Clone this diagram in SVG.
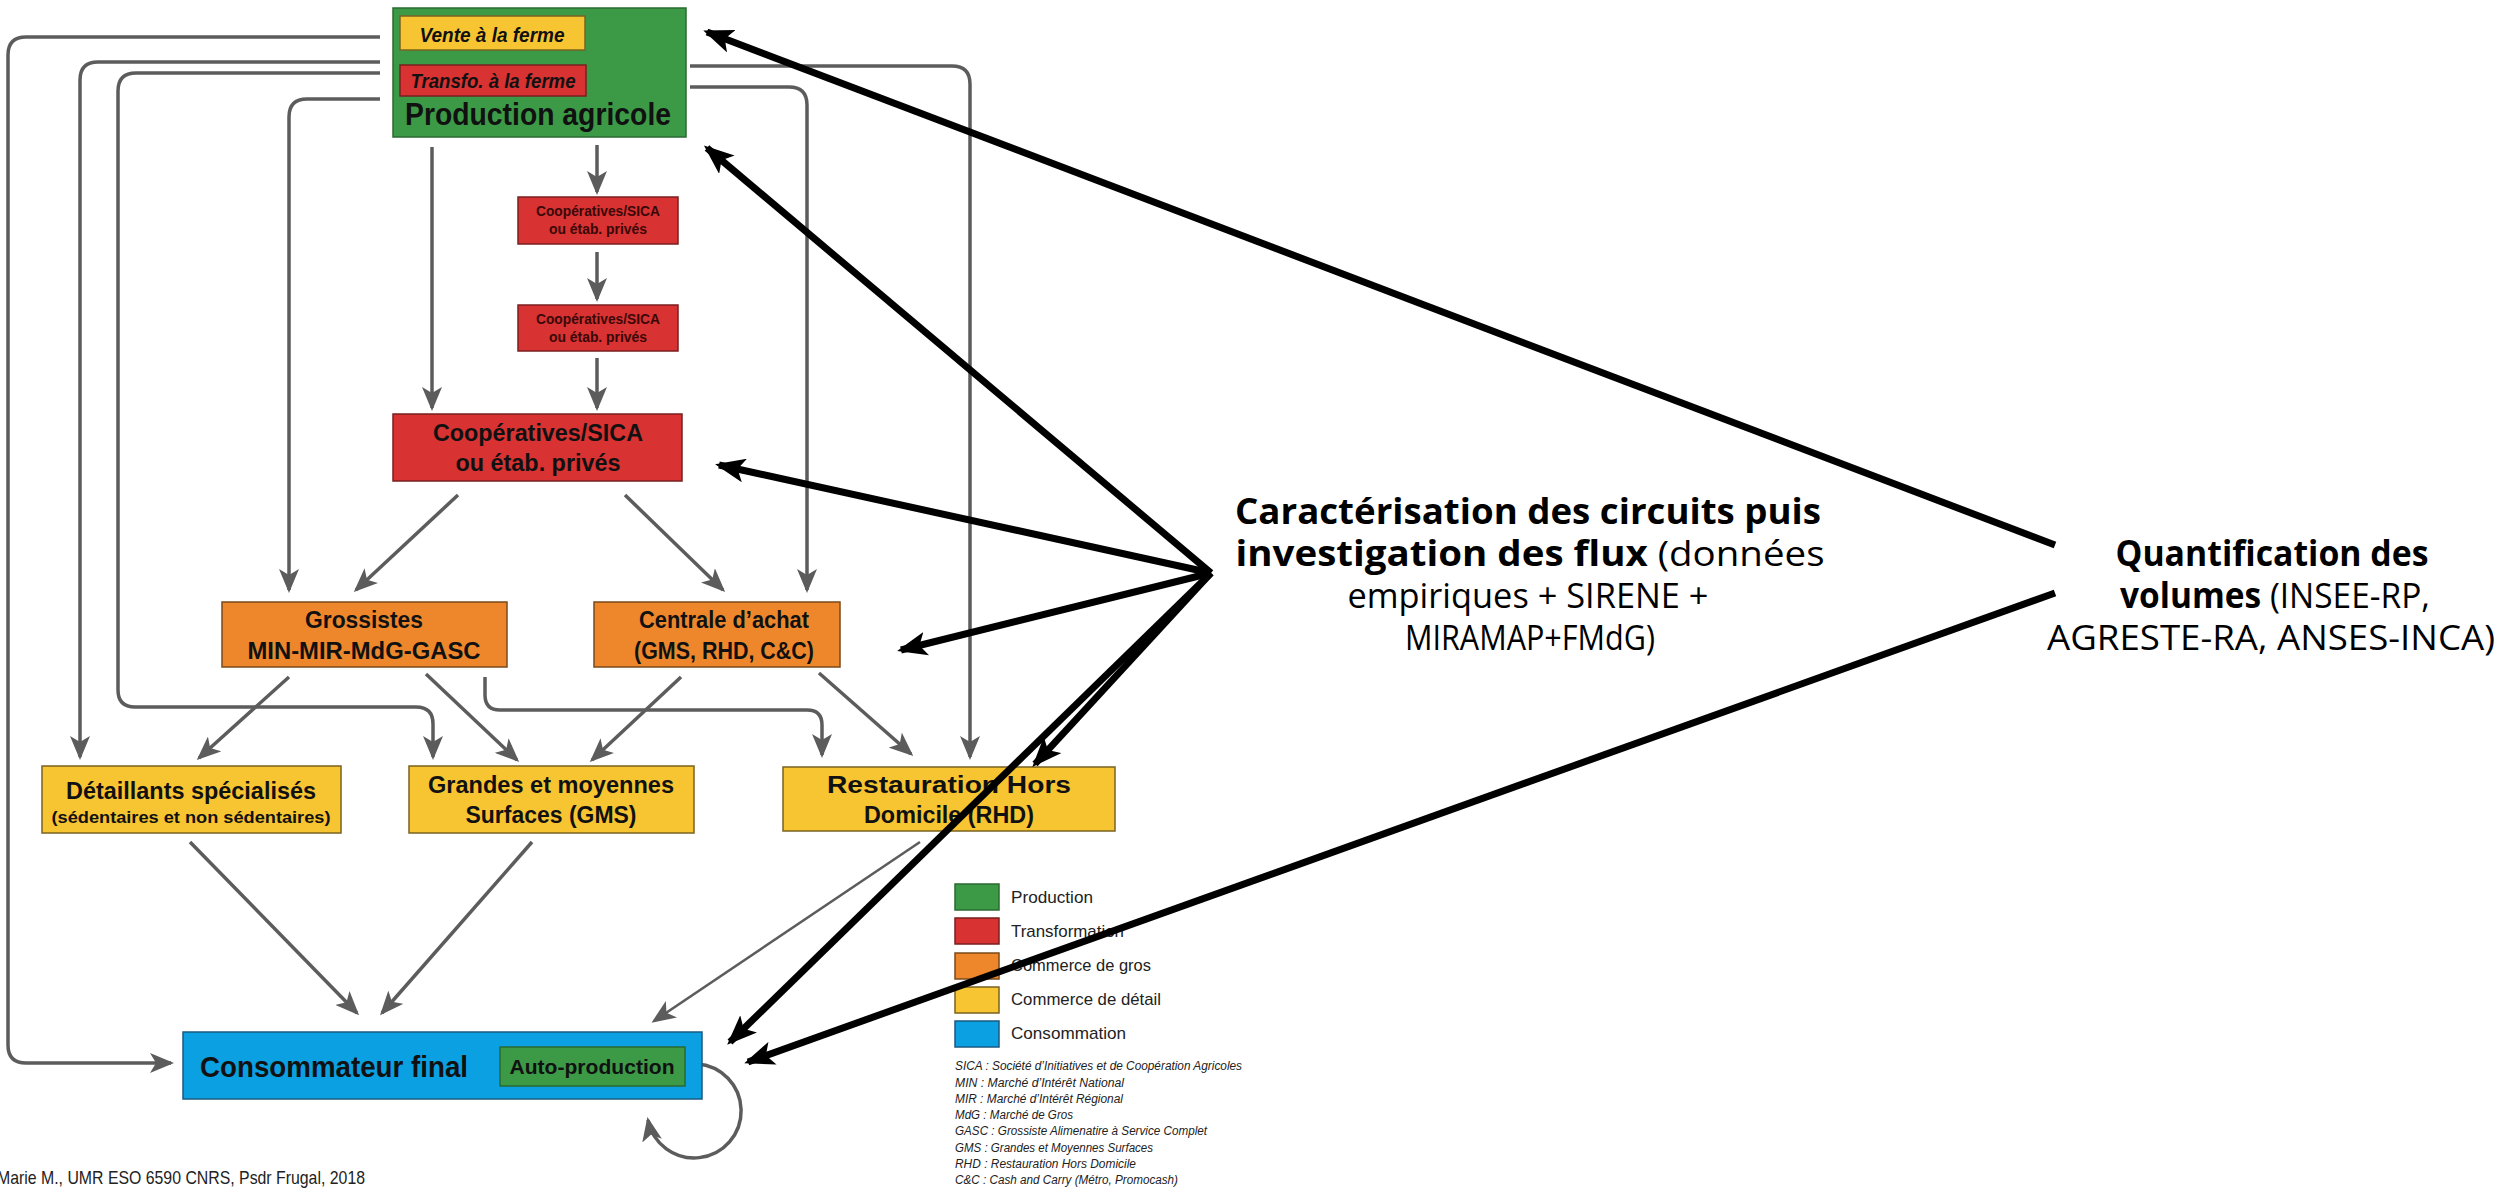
<svg xmlns="http://www.w3.org/2000/svg" width="2509" height="1196" viewBox="0 0 2509 1196">
<defs>
<style>
.lbl{font-family:"Liberation Sans",Arial,sans-serif;font-weight:bold;fill:#111;text-anchor:middle}
.sm{fill:#3a0808}
.cn{fill:none;stroke:#5c5c5c;stroke-width:3.5;marker-end:url(#ag)}
.bk{fill:none;stroke:#000;stroke-width:7;marker-end:url(#ab)}
.ann{font-family:"Open Sans","Noto Sans",sans-serif;font-size:35px;fill:#000;text-anchor:middle}
.leg{font-family:"Liberation Sans",Arial,sans-serif;font-size:17px;fill:#222}
.abr{font-family:"Liberation Sans",Arial,sans-serif;font-size:12.5px;font-style:italic;fill:#222}
.g{fill:#3c9a46;stroke:#2a6a32;stroke-width:1.5}
.r{fill:#d83232;stroke:#7a1f1f;stroke-width:1.5}
.o{fill:#ee872c;stroke:#7a4a1a;stroke-width:1.5}
.y{fill:#f8c532;stroke:#7a6220;stroke-width:1.5}
.b{fill:#0ba0e2;stroke:#1a5a80;stroke-width:1.5}
</style>
<marker id="ag" markerUnits="userSpaceOnUse" viewBox="0 0 24 20" refX="21" refY="10" markerWidth="24" markerHeight="20" orient="auto"><path d="M0,0 L24,10 L0,20 L6,10 Z" fill="#5c5c5c"/></marker>
<marker id="ab" markerUnits="userSpaceOnUse" viewBox="0 0 30 24" refX="26" refY="12" markerWidth="30" markerHeight="24" orient="auto"><path d="M0,0 L30,12 L0,24 L7,12 Z" fill="#000"/></marker>
</defs>
<rect width="2509" height="1196" fill="#fff"/>

<g id="connectors">
<path class="cn" d="M380,37 H26 Q8,37 8,55 V1045 Q8,1063 26,1063 H171"/>
<path class="cn" d="M380,62 H98 Q80,62 80,80 V757"/>
<path class="cn" d="M380,73 H136 Q118,73 118,91 V690 Q118,707 135,707 H416 Q433,707 433,724 V757"/>
<path class="cn" d="M380,99 H307 Q289,99 289,117 V590"/>
<path class="cn" d="M690,66 H952 Q970,66 970,84 V757"/>
<path class="cn" d="M690,87 H789 Q807,87 807,105 V590"/>
<path class="cn" d="M432,147 V408"/>
<path class="cn" d="M597,145 V192"/>
<path class="cn" d="M597,252 V299"/>
<path class="cn" d="M597,358 V408"/>
<path class="cn" d="M458,495 L356,590"/>
<path class="cn" d="M625,495 L723,590"/>
<path class="cn" d="M289,677 L199,758"/>
<path class="cn" d="M426,674 L517,760"/>
<path class="cn" d="M485,677 V695 Q485,710 500,710 H807 Q822,710 822,725 V755"/>
<path class="cn" d="M681,677 L592,760"/>
<path class="cn" d="M819,673 L911,754"/>
<path class="cn" d="M190,842 L357,1013"/>
<path class="cn" d="M532,842 L382,1013"/>
<path class="cn" style="stroke-width:2.5" d="M920,842 L654,1021"/>
<path class="cn" d="M697,1064 A47,47 0 1 1 648,1120"/>
</g>

<g id="production">
<rect x="393" y="8" width="293" height="129" class="g"/>
<rect x="400" y="16" width="185" height="34" class="y"/>
<text x="492" y="42" class="lbl" font-size="21" font-style="italic" textLength="145" lengthAdjust="spacingAndGlyphs">Vente à la ferme</text>
<rect x="400" y="65" width="186" height="31" class="r"/>
<text x="493" y="88" class="lbl" font-size="21" font-style="italic" textLength="165" lengthAdjust="spacingAndGlyphs">Transfo. à la ferme</text>
<text x="538" y="125" class="lbl" font-size="32" textLength="266" lengthAdjust="spacingAndGlyphs">Production agricole</text>
</g>

<g id="coop-1">
<rect x="518" y="197" width="160" height="47" class="r"/>
<text x="598" y="216" class="lbl sm" font-size="14" textLength="124" lengthAdjust="spacingAndGlyphs">Coopératives/SICA</text>
<text x="598" y="234" class="lbl sm" font-size="14" textLength="98" lengthAdjust="spacingAndGlyphs">ou étab. privés</text>
</g>
<g id="coop-2">
<rect x="518" y="305" width="160" height="46" class="r"/>
<text x="598" y="324" class="lbl sm" font-size="14" textLength="124" lengthAdjust="spacingAndGlyphs">Coopératives/SICA</text>
<text x="598" y="342" class="lbl sm" font-size="14" textLength="98" lengthAdjust="spacingAndGlyphs">ou étab. privés</text>
</g>
<g id="coop-main">
<rect x="393" y="414" width="289" height="67" class="r"/>
<text x="538" y="441" class="lbl" font-size="23" textLength="210" lengthAdjust="spacingAndGlyphs">Coopératives/SICA</text>
<text x="538" y="471" class="lbl" font-size="23" textLength="165" lengthAdjust="spacingAndGlyphs">ou étab. privés</text>
</g>
<g id="grossistes">
<rect x="222" y="602" width="285" height="65" class="o"/>
<text x="364" y="628" class="lbl" font-size="23" textLength="118" lengthAdjust="spacingAndGlyphs">Grossistes</text>
<text x="364" y="659" class="lbl" font-size="23" textLength="233" lengthAdjust="spacingAndGlyphs">MIN-MIR-MdG-GASC</text>
</g>
<g id="centrale">
<rect x="594" y="602" width="246" height="65" class="o"/>
<text x="724" y="628" class="lbl" font-size="23" textLength="170" lengthAdjust="spacingAndGlyphs">Centrale d’achat</text>
<text x="724" y="659" class="lbl" font-size="23" textLength="180" lengthAdjust="spacingAndGlyphs">(GMS, RHD, C&amp;C)</text>
</g>
<g id="detaillants">
<rect x="42" y="766" width="299" height="67" class="y"/>
<text x="191" y="799" class="lbl" font-size="23" textLength="250" lengthAdjust="spacingAndGlyphs">Détaillants spécialisés</text>
<text x="191" y="823" class="lbl" font-size="16" textLength="279" lengthAdjust="spacingAndGlyphs">(sédentaires et non sédentaires)</text>
</g>
<g id="gms">
<rect x="409" y="766" width="285" height="67" class="y"/>
<text x="551" y="793" class="lbl" font-size="23" textLength="246" lengthAdjust="spacingAndGlyphs">Grandes et moyennes</text>
<text x="551" y="823" class="lbl" font-size="23" textLength="171" lengthAdjust="spacingAndGlyphs">Surfaces (GMS)</text>
</g>
<g id="rhd">
<rect x="783" y="767" width="332" height="64" class="y"/>
<text x="949" y="793" class="lbl" font-size="23" textLength="244" lengthAdjust="spacingAndGlyphs">Restauration Hors</text>
<text x="949" y="823" class="lbl" font-size="23" textLength="170" lengthAdjust="spacingAndGlyphs">Domicile (RHD)</text>
</g>
<g id="consommateur">
<rect x="183" y="1032" width="519" height="67" class="b"/>
<text x="334" y="1077" class="lbl" font-size="30" textLength="268" lengthAdjust="spacingAndGlyphs">Consommateur final</text>
<rect x="500" y="1047" width="185" height="39" class="g"/>
<text x="592" y="1074" class="lbl" font-size="21" textLength="165" lengthAdjust="spacingAndGlyphs">Auto-production</text>
</g>

<g id="legend">
<rect x="955" y="884" width="44" height="26" class="g"/>
<rect x="955" y="918" width="44" height="26" class="r"/>
<rect x="955" y="953" width="44" height="26" class="o"/>
<rect x="955" y="987" width="44" height="26" class="y"/>
<rect x="955" y="1021" width="44" height="26" class="b"/>
<text x="1011" y="903" class="leg" textLength="82" lengthAdjust="spacingAndGlyphs">Production</text>
<text x="1011" y="937" class="leg" textLength="113" lengthAdjust="spacingAndGlyphs">Transformation</text>
<text x="1011" y="971" class="leg" textLength="140" lengthAdjust="spacingAndGlyphs">Commerce de gros</text>
<text x="1011" y="1005" class="leg" textLength="150" lengthAdjust="spacingAndGlyphs">Commerce de détail</text>
<text x="1011" y="1039" class="leg" textLength="115" lengthAdjust="spacingAndGlyphs">Consommation</text>
<text x="955" y="1070" class="abr" textLength="287" lengthAdjust="spacingAndGlyphs">SICA : Société d’Initiatives et de Coopération Agricoles</text>
<text x="955" y="1087" class="abr" textLength="169" lengthAdjust="spacingAndGlyphs">MIN : Marché d’Intérêt National</text>
<text x="955" y="1103" class="abr" textLength="168" lengthAdjust="spacingAndGlyphs">MIR : Marché d’Intérêt Régional</text>
<text x="955" y="1119" class="abr" textLength="118" lengthAdjust="spacingAndGlyphs">MdG : Marché de Gros</text>
<text x="955" y="1135" class="abr" textLength="252" lengthAdjust="spacingAndGlyphs">GASC : Grossiste Alimenatire à Service Complet</text>
<text x="955" y="1152" class="abr" textLength="198" lengthAdjust="spacingAndGlyphs">GMS : Grandes et Moyennes Surfaces</text>
<text x="955" y="1168" class="abr" textLength="181" lengthAdjust="spacingAndGlyphs">RHD : Restauration Hors Domicile</text>
<text x="955" y="1184" class="abr" textLength="223" lengthAdjust="spacingAndGlyphs">C&amp;C : Cash and Carry (Métro, Promocash)</text>
</g>

<g id="credit">
<text x="-3" y="1184" font-family="Liberation Sans, Arial, sans-serif" font-size="19" fill="#222" textLength="368" lengthAdjust="spacingAndGlyphs">Marie M., UMR ESO 6590 CNRS, Psdr Frugal, 2018</text>
</g>

<g id="annotation-caracterisation">
<text x="1528" y="524" class="ann" font-weight="bold" textLength="586" lengthAdjust="spacingAndGlyphs">Caractérisation des circuits puis</text>
<text x="1530" y="566" class="ann" textLength="589" lengthAdjust="spacingAndGlyphs"><tspan font-weight="bold">investigation des flux</tspan> (données</text>
<text x="1528" y="608" class="ann" textLength="361" lengthAdjust="spacingAndGlyphs">empiriques + SIRENE +</text>
<text x="1530" y="650" class="ann" textLength="250" lengthAdjust="spacingAndGlyphs">MIRAMAP+FMdG)</text>
</g>
<g id="annotation-quantification">
<text x="2272" y="566" class="ann" font-weight="bold" textLength="313" lengthAdjust="spacingAndGlyphs">Quantification des</text>
<text x="2275" y="608" class="ann" textLength="310" lengthAdjust="spacingAndGlyphs"><tspan font-weight="bold">volumes</tspan> (INSEE-RP,</text>
<text x="2271" y="650" class="ann" textLength="448" lengthAdjust="spacingAndGlyphs">AGRESTE-RA, ANSES-INCA)</text>
</g>

<g id="annotation-arrows">
<path class="bk" d="M2055,545 L707,32"/>
<path class="bk" d="M2055,593 L748,1062"/>
<path class="bk" d="M1211,573 L707,148"/>
<path class="bk" d="M1211,573 L719,465"/>
<path class="bk" d="M1211,573 L901,650"/>
<path class="bk" d="M1211,573 L1035,764"/>
<path class="bk" d="M1211,573 L730,1042"/>
</g>
</svg>
